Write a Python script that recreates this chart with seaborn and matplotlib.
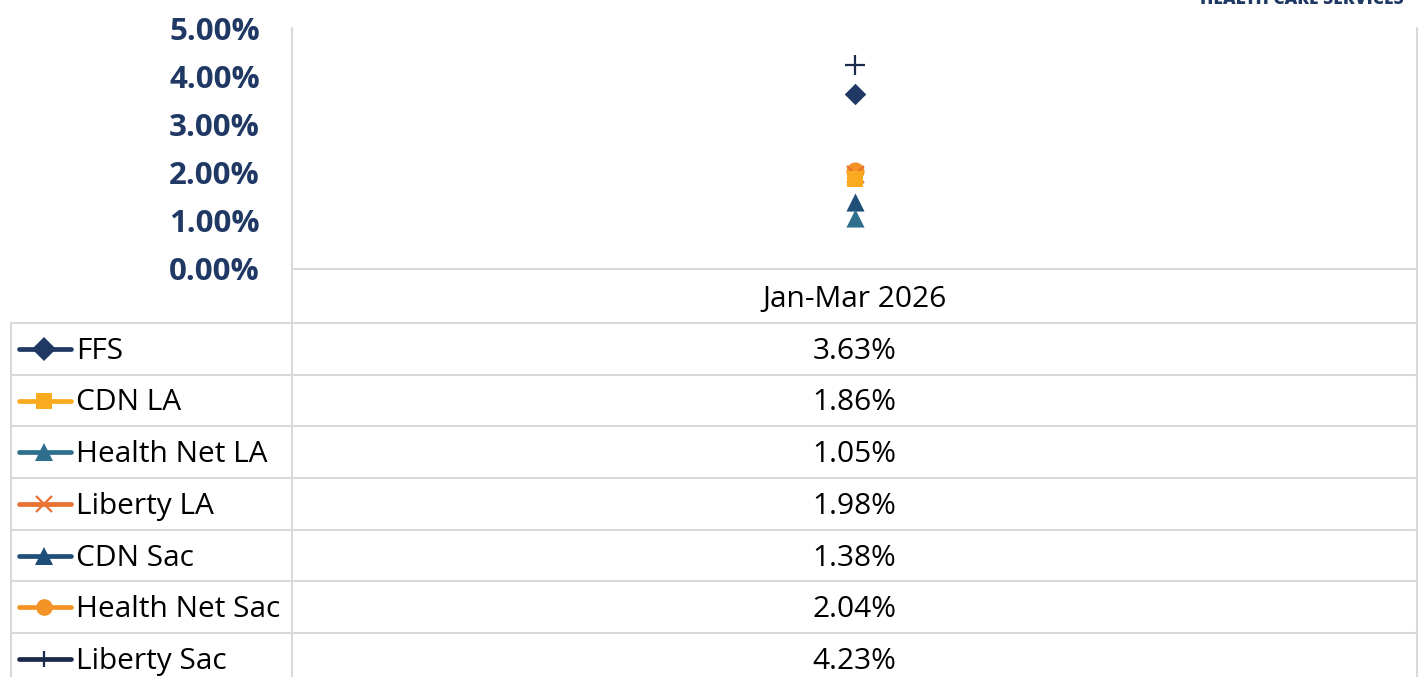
import matplotlib
matplotlib.use("Agg")
import matplotlib.pyplot as plt
import seaborn as sns
import pandas as pd

# ---------------------------
# Data
# ---------------------------
periods = ["Jan-Mar 2026"]
plans = ["FFS", "CDN LA", "Health Net LA", "Liberty LA", "CDN Sac", "Health Net Sac", "Liberty Sac"]
rates = [3.63, 1.86, 1.05, 1.98, 1.38, 2.04, 4.23]
y_ticks = [0, 1, 2, 3, 4, 5]

colors = ["#1F3864", "#FAAA1E", "#2E6F8E", "#E97132", "#1F4E79", "#F39325", "#1B2A4A"]
markers = ["D", "s", "^", "x", "^", "o", "+"]
sizes = [120, 140, 170, 150, 170, 170, 200]

df = pd.DataFrame({"plan": plans, "rate": rates, "period": periods[0]})
df["x"] = df["period"].map({p: i for i, p in enumerate(periods)})

sns.set_theme(style="white")
plt.rcParams["font.family"] = ["Open Sans", "DejaVu Sans"]

W, H = 1423, 677
fig = plt.figure(figsize=(W / 100, H / 100), dpi=100)

# pixel geometry of the Excel-style chart + data table
px_left, px_right = 292, 1417
px_top, px_axis = 28, 269
tbl_left = 11
row_lines = [323 + i * (633 - 323) / 6 for i in range(7)]
grid_c = "#D9D9D9"
navy = "#1F3864"
fs_table = 21.5

# ---------------------------
# Plot area
# ---------------------------
ax = fig.add_axes([px_left / W, 1 - px_axis / H, (px_right - px_left) / W, (px_axis - px_top) / H])
for i, row in df.iterrows():
    sns.scatterplot(x=[row["x"]], y=[row["rate"]], ax=ax, marker=markers[i], color=colors[i],
                    s=sizes[i], linewidth=1.6 if markers[i] in "x+" else 0, zorder=3 + (7 - i))
ax.set_xlim(-0.5, len(periods) - 0.5)
ax.set_ylim(0, 5)
ax.set_yticks(y_ticks)
ax.set_yticklabels([f"{t:.2f}%" for t in y_ticks], fontsize=22.5, fontweight="bold", color=navy)
ax.tick_params(axis="y", length=0, pad=23)
ax.set_xticks([])
ax.set_xlabel("")
ax.set_ylabel("")
for s in ax.spines.values():
    s.set_visible(False)
ax.patch.set_alpha(0)

# ---------------------------
# Data table overlay (pixel coordinates)
# ---------------------------
tb = fig.add_axes([0, 0, 1, 1], zorder=-1)
tb.set_xlim(0, W)
tb.set_ylim(H, 0)
tb.axis("off")

tb.plot([px_left, px_left], [px_top, H], color=grid_c, lw=1.5)
tb.plot([px_right, px_right], [px_top, H], color=grid_c, lw=1.5)
tb.plot([tbl_left, tbl_left], [row_lines[0], H], color=grid_c, lw=1.5)
tb.plot([px_left, px_right], [px_axis, px_axis], color=grid_c, lw=1.5)
for y in row_lines:
    tb.plot([tbl_left, px_right], [y, y], color=grid_c, lw=1.5)

mid_x = (px_left + px_right) / 2
tb.text(mid_x, (px_axis + row_lines[0]) / 2 + 3, periods[0], ha="center", va="center",
        fontsize=fs_table, color="black")

row_h = row_lines[1] - row_lines[0]
for i, (plan, val) in enumerate(zip(plans, rates)):
    yc = row_lines[0] + row_h * (i + 0.5)
    tb.plot([19, 71], [yc, yc], color=colors[i], lw=3.4, solid_capstyle="round")
    mk_kw = dict(markersize=12 if markers[i] != "^" else 13)
    if markers[i] in "x+":
        tb.plot([44], [yc], marker=markers[i], color=colors[i], markeredgewidth=1.6, **mk_kw)
    else:
        tb.plot([44], [yc], marker=markers[i], color=colors[i], markeredgewidth=0, **mk_kw)
    tb.text(76, yc + 2.5, plan, ha="left", va="center", fontsize=fs_table, color="black")
    tb.text(mid_x, yc + 2.5, f"{val:.2f}%", ha="center", va="center", fontsize=fs_table, color="black")

# clipped header text from the source slide
tb.text(1302, -1, "HEALTH CARE SERVICES", ha="center", va="center", fontsize=12.5,
        fontweight="heavy", color=navy)

fig.savefig("out.png", dpi=100)
